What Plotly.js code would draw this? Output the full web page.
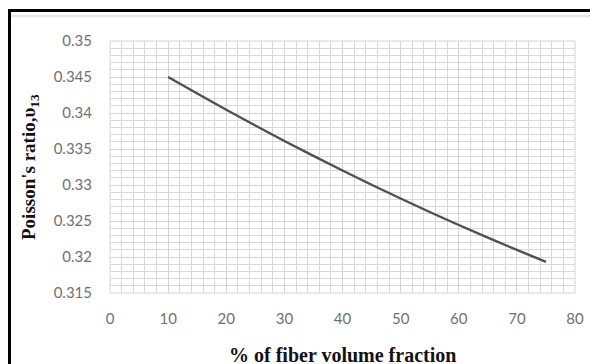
<!DOCTYPE html>
<html>
<head>
<meta charset="utf-8">
<script src="https://cdn.plot.ly/plotly-3.0.1.min.js"></script>
<style>
html,body{margin:0;padding:0;background:#fff;}
#chart{width:590px;height:364px;}
</style>
</head>
<body>
<div id="chart"></div>
<script>
// Data
const fiberVolumeFraction = [10, 15, 20, 25, 30, 35, 40, 45, 50, 55, 60, 65, 70, 75];
const poissonRatio13 = [0.34500, 0.34270, 0.34045, 0.33826, 0.33612, 0.33404, 0.33201, 0.33004, 0.32812, 0.32625, 0.32444, 0.32268, 0.32098, 0.31933];
const xTicks = [0, 10, 20, 30, 40, 50, 60, 70, 80];
const yTicks = [0.315, 0.32, 0.325, 0.33, 0.335, 0.34, 0.345, 0.35];
const yTickText = ["0.315", "0.32", "0.325", "0.33", "0.335", "0.34", "0.345", "0.35"];

const W = 590, H = 364;
const m = {l: 110, r: 15, t: 41, b: 71};
const pw = W - m.l - m.r, ph = H - m.t - m.b;
const px = v => (v - m.l) / pw;
const py = v => (H - m.b - v) / ph;

const trace = {
  x: fiberVolumeFraction,
  y: poissonRatio13,
  type: 'scatter',
  mode: 'lines',
  line: {color: '#505050', width: 2.4, shape: 'spline', smoothing: 1},
  hoverinfo: 'skip'
};

const layout = {
  width: W, height: H,
  margin: m,
  paper_bgcolor: '#fff',
  plot_bgcolor: '#fff',
  showlegend: false,
  font: {family: 'Lato, "Open Sans", sans-serif', color: '#707070', size: 15},
  xaxis: {
    range: [0, 80],
    tickvals: xTicks,
    ticktext: xTicks.map(String),
    showgrid: true, gridcolor: '#d4d4d4', gridwidth: 1,
    minor: {dtick: 2, showgrid: true, gridcolor: '#d9d9d9', gridwidth: 1},
    zeroline: false, showline: false, ticks: '',
    ticklabelstandoff: 15,
    tickfont: {size: 15, color: '#707070'}
  },
  yaxis: {
    range: [0.315, 0.35],
    tickvals: yTicks,
    ticktext: yTickText,
    showgrid: true, gridcolor: '#d4d4d4', gridwidth: 1,
    minor: {dtick: 0.001, tick0: 0.315, showgrid: true, gridcolor: '#d9d9d9', gridwidth: 1},
    zeroline: false, showline: false, ticks: '',
    ticklabelstandoff: 17,
    tickfont: {size: 15, color: '#707070'}
  },
  shapes: [
    {type: 'rect', xref: 'paper', yref: 'paper', x0: 0, x1: 1, y0: 0, y1: 1, line: {color: '#d4d4d4', width: 1}, layer: 'below'},
    {type: 'line', xref: 'paper', yref: 'paper', x0: px(8), x1: px(592), y0: py(10.5), y1: py(10.5), line: {color: '#000', width: 3}},
    {type: 'line', xref: 'paper', yref: 'paper', x0: px(9.5), x1: px(9.5), y0: py(9), y1: py(366), line: {color: '#000', width: 3}},
    {type: 'line', xref: 'paper', yref: 'paper', x0: px(11), x1: px(592), y0: py(16), y1: py(16), line: {color: '#e6e6e6', width: 2.5}}
  ],
  annotations: [
    {
      xref: 'paper', yref: 'paper', x: px(30), y: 0.5,
      text: "Poisson's ratio,υ<sub>13</sub>",
      textangle: -90, showarrow: false,
      xanchor: 'center', yanchor: 'middle',
      font: {family: '"Liberation Serif", "Times New Roman", serif', size: 19, color: '#111', weight: 'bold'}
    },
    {
      xref: 'paper', yref: 'paper', x: 0.5, y: py(342),
      text: "% of fiber volume fraction",
      showarrow: false,
      xanchor: 'center', yanchor: 'top',
      font: {family: '"Liberation Serif", "Times New Roman", serif', size: 20, color: '#111', weight: 'bold'}
    }
  ]
};

Plotly.newPlot('chart', [trace], layout, {displayModeBar: false, staticPlot: true});
</script>
</body>
</html>
